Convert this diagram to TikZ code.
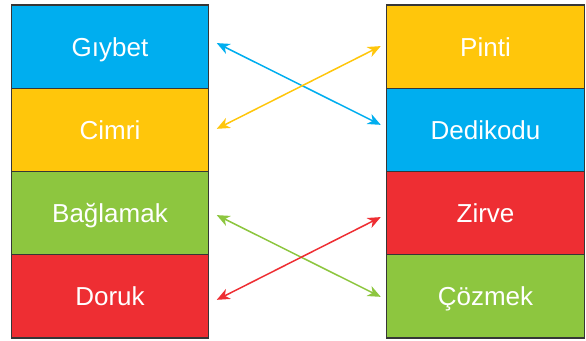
\documentclass[tikz,border=0pt]{standalone}
\usepackage{fontspec}
\setmainfont{Liberation Sans}
\usetikzlibrary{positioning, arrows.meta}

\definecolor{cyanbox}{HTML}{00AEEF}
\definecolor{yellowbox}{HTML}{FFC60B}
\definecolor{greenbox}{HTML}{8DC63F}
\definecolor{redbox}{HTML}{EE2E33}
\definecolor{boxline}{HTML}{363636}

\begin{document}
\begin{tikzpicture}[x=1pt, y=1pt, node distance=0pt,
	box/.style={draw=boxline, line width=1.4pt, outer sep=0pt, minimum width=197.5pt, minimum height=83.25pt, text=white, text height=19pt, text depth=0pt, font=\fontsize{26}{30}\selectfont},
	link/.style={{Stealth[length=13pt,width=11pt,inset=4pt]}-{Stealth[length=13pt,width=11pt,inset=4pt]}, line width=1.5pt}]
	\useasboundingbox (0,0) rectangle (586,340);
	% left column
	\node (gybet) [box, fill=cyanbox] at (110,293.4) {Gıybet};
	\node (cimri) [box, fill=yellowbox, below=of gybet] {Cimri};
	\node (baglamak) [box, fill=greenbox, below=of cimri] {Bağlamak};
	\node (doruk) [box, fill=redbox, below=of baglamak] {Doruk};
	% right column
	\node (pinti) [box, fill=yellowbox] at (485.5,293.4) {Pinti};
	\node (dedikodu) [box, fill=cyanbox, below=of pinti] {Dedikodu};
	\node (zirve) [box, fill=redbox, below=of dedikodu] {Zirve};
	\node (cozmek) [box, fill=greenbox, below=of zirve] {Çözmek};
	\path
		([xshift=8pt,yshift=3.5pt]gybet.east) edge [link, cyanbox] ([xshift=-6pt,yshift=5pt]dedikodu.west)
		([xshift=8pt,yshift=1pt]cimri.east) edge [link, yellowbox] ([xshift=-6pt,yshift=0.5pt]pinti.west)
		([xshift=8pt,yshift=-2pt]baglamak.east) edge [link, greenbox] ([xshift=-6pt,yshift=-0.5pt]cozmek.west)
		([xshift=8pt,yshift=-3.5pt]doruk.east) edge [link, redbox] ([xshift=-6pt,yshift=-4pt]zirve.west)
	;
\end{tikzpicture}
\end{document}
